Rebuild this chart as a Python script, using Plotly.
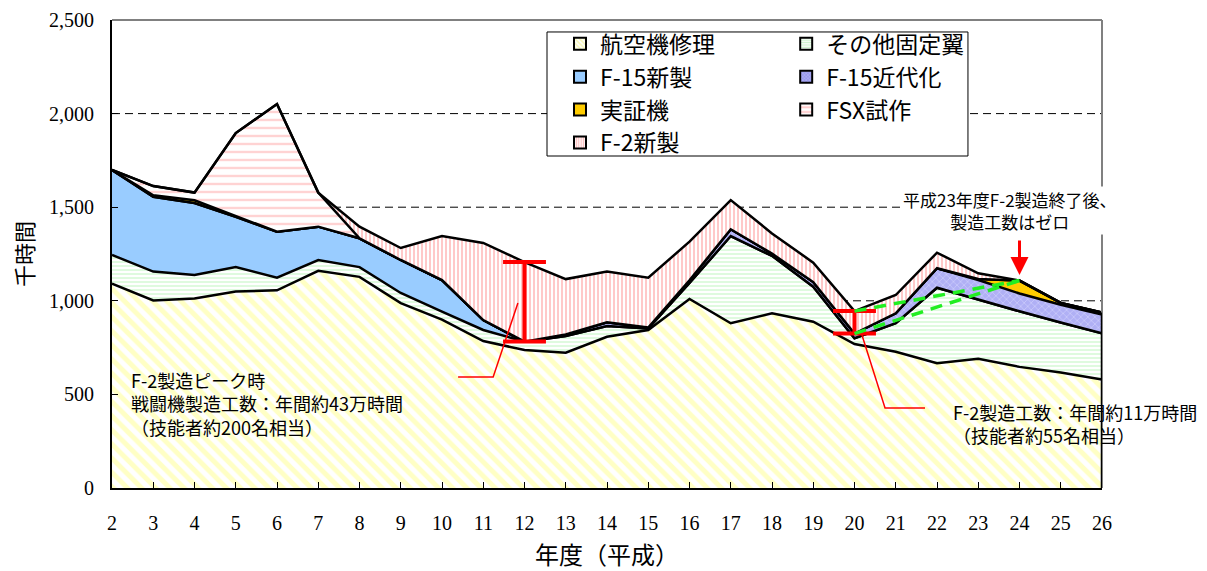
import numpy as np
import plotly.graph_objects as go

# ---------------- data (千時間) ----------------
years = list(range(2, 27))
year_labels = [str(y) for y in years]

repair      = [1092, 1002, 1012, 1050, 1056, 1160, 1128, 988, 900, 785, 737, 723, 808, 844, 1010, 880, 933, 888, 769, 728, 667, 690, 647, 617, 580]
other_fixed = [153, 154, 126, 130, 68, 58, 52, 54, 42, 59, 45, 89, 57, 8, 85, 466, 307, 187, 31, 152, 403, 315, 297, 267, 246]
f15_new     = [454, 400, 384, 269, 245, 178, 154, 176, 169, 53, 0, 0, 0, 0, 0, 0, 0, 0, 0, 0, 0, 0, 0, 0, 0]
f15_mod     = [0, 0, 0, 0, 0, 0, 0, 0, 0, 0, 0, 8, 20, 5, 15, 36, 12, 25, 25, 53, 104, 106, 95, 95, 100]
demo        = [0, 8, 15, 5, 0, 0, 0, 0, 0, 0, 0, 0, 0, 0, 0, 0, 0, 0, 0, 0, 0, 6, 69, 10, 12]
fsx         = [0, 49, 41, 442, 682, 182, 0, 0, 0, 0, 0, 0, 0, 0, 0, 0, 0, 0, 0, 0, 0, 0, 0, 0, 0]
f2_new      = [0, 0, 0, 0, 0, 0, 62, 64, 235, 412, 425, 296, 271, 266, 206, 156, 108, 104, 120, 98, 83, 30, 0, 0, 0]

series_names = ["航空機修理", "その他固定翼", "F-15新製", "F-15近代化", "実証機", "FSX試作", "F-2新製"]
series_vals = [repair, other_fixed, f15_new, f15_mod, demo, fsx, f2_new]
legend_col = ["legend", "legend2", "legend", "legend2", "legend", "legend2", "legend"]

y_ticks = [0, 500, 1000, 1500, 2000, 2500]

note_peak = ["F-2製造ピーク時", "戦闘機製造工数：年間約43万時間", "（技能者約200名相当）"]
note_f2 = ["F-2製造工数：年間約11万時間", "（技能者約55名相当）"]
note_end = ["平成23年度F-2製造終了後、", "製造工数はゼロ"]

# ---------------- styles ----------------
CJK = "Noto Sans CJK JP"
SERIF = "Liberation Serif"
styles = [
    dict(fillcolor="white", pattern=dict(shape="\\", fgcolor="#ffff8c", bgcolor="white", size=10, solidity=0.5)),
    dict(fillcolor="white", pattern=dict(shape="-", fgcolor="#bff5bf", bgcolor="white", size=4, solidity=0.5)),
    dict(fillcolor="#99ccff", pattern=None),
    dict(fillcolor="#b0b0f5", pattern=dict(shape="x", fgcolor="#e2e2ff", bgcolor="#b0b0f5", size=5, solidity=0.3)),
    dict(fillcolor="#ffcc00", pattern=None),
    dict(fillcolor="white", pattern=dict(shape="-", fgcolor="#ffa8a8", bgcolor="white", size=8, solidity=0.3)),
    dict(fillcolor="white", pattern=dict(shape="|", fgcolor="#ff9494", bgcolor="white", size=4, solidity=0.5)),
]
legend_styles = [
    dict(color="white", pattern=dict(shape="\\", fgcolor="#f0f070", bgcolor="white", size=4, solidity=0.5)),
    dict(color="white", pattern=dict(shape="-", fgcolor="#99e699", bgcolor="white", size=3, solidity=0.5)),
    dict(color="#99ccff", pattern=None),
    dict(color="#9999ee", pattern=dict(shape="x", fgcolor="#e6e6ff", bgcolor="#9999ee", size=3, solidity=0.3)),
    dict(color="#ffcc00", pattern=None),
    dict(color="white", pattern=dict(shape="-", fgcolor="#ff8080", bgcolor="white", size=6, solidity=0.35)),
    dict(color="white", pattern=dict(shape="|", fgcolor="#ff8080", bgcolor="white", size=3, solidity=0.5)),
]

fig = go.Figure()

for name, vals, st in zip(series_names, series_vals, styles):
    kw = dict(x=years, y=vals, name=name, mode="lines", stackgroup="one",
              line=dict(color="black", width=2.5), fillcolor=st["fillcolor"],
              showlegend=False, hoverinfo="skip")
    if st["pattern"] is not None:
        kw["fillpattern"] = st["pattern"]
    fig.add_trace(go.Scatter(**kw))

# legend-only square symbols
for name, lst, lg in zip(series_names, legend_styles, legend_col):
    marker = dict(color=lst["color"], line=dict(color="black", width=2))
    if lst["pattern"] is not None:
        marker["pattern"] = lst["pattern"]
    fig.add_trace(go.Bar(x=[None], y=[None], name=name, marker=marker,
                         legend=lg, legendgroup=name, showlegend=True, hoverinfo="skip"))

# ---------------- derived positions ----------------
stack = np.cumsum(np.array(series_vals), axis=0)
total = stack[-1]
below_f2 = stack[-2]
i12 = years.index(12)
i20 = years.index(20)
i24 = years.index(24)

shapes = []
for t in y_ticks[1:-1]:
    shapes.append(dict(type="line", xref="paper", x0=0, x1=1, yref="y", y0=t, y1=t,
                       line=dict(color="black", width=1, dash="8px,5px"), layer="below"))
shapes.append(dict(type="line", xref="paper", x0=0, x1=1, yref="paper", y0=1, y1=1,
                   line=dict(color="#808080", width=2), layer="above"))
shapes.append(dict(type="line", xref="paper", x0=1, x1=1, yref="paper", y0=0, y1=1,
                   line=dict(color="#808080", width=2), layer="above"))
shapes.append(dict(type="line", x0=years[-1], x1=years[-1], y0=0, y1=float(total[-1]),
                   line=dict(color="black", width=2.5), layer="above"))

# legend box
shapes.append(dict(type="rect", xref="paper", yref="paper", x0=0.4394, x1=0.8646, y0=0.7094, y1=0.9744,
                   line=dict(color="black", width=1), fillcolor="white", layer="above"))

RED = "#ff0000"
def ibeam(xc, ytop, ybot, half=0.52):
    return [
        dict(type="line", x0=xc - half, x1=xc + half, y0=ytop, y1=ytop, line=dict(color=RED, width=4), layer="above"),
        dict(type="line", x0=xc - half, x1=xc + half, y0=ybot, y1=ybot, line=dict(color=RED, width=4), layer="above"),
        dict(type="line", x0=xc, x1=xc, y0=ytop, y1=ybot, line=dict(color=RED, width=4), layer="above"),
    ]

shapes += ibeam(12, float(total[i12]), float(below_f2[i12]))
shapes += ibeam(20, float(total[i20]), float(below_f2[i20]))

shapes.append(dict(type="path", path="M 11.84,988 L 11.24,593 L 10.39,593",
                   line=dict(color=RED, width=1.5), layer="above"))
shapes.append(dict(type="path", path="M 20.18,817 L 20.74,427 L 21.71,427",
                   line=dict(color=RED, width=1.5), layer="above"))

peak24 = float(stack[4][i24])
for y0 in (float(total[i20]), float(below_f2[i20])):
    shapes.append(dict(type="line", x0=20, x1=24, y0=y0, y1=peak24,
                       line=dict(color="#22ee22", width=3.5, dash="12px,8px"), layer="above"))

annotations = [
    dict(x=2.42, y=449, xref="x", yref="y", xanchor="left", yanchor="middle", align="left",
         showarrow=False, text="<br>".join(note_peak), font=dict(family=CJK, size=18, color="black")),
    dict(x=22.33, y=345, xref="x", yref="y", xanchor="left", yanchor="middle", align="left",
         showarrow=False, text="<br>".join(note_f2), font=dict(family=CJK, size=18, color="black")),
    dict(x=23.77, y=1480, xref="x", yref="y", xanchor="center", yanchor="middle", align="center",
         showarrow=False, text="<br>".join(note_end), bgcolor="white", borderpad=0,
         font=dict(family=CJK, size=17, color="black")),
    dict(x=24, y=peak24 + 30, xref="x", yref="y", ax=0, ay=-36, text="", showarrow=True,
         arrowhead=2, arrowsize=1.2, arrowwidth=3, arrowcolor=RED),
    dict(x=0.5, y=-0.14, xref="paper", yref="paper", xanchor="center", yanchor="middle", showarrow=False,
         text="年度（平成）", font=dict(family=CJK, size=24, color="black")),
    dict(x=-0.09, y=0.5, xref="paper", yref="paper", xanchor="center", yanchor="middle", showarrow=False,
         text="千時間", textangle=-90, font=dict(family=CJK, size=22, color="black")),
]

legend_common = dict(orientation="v", traceorder="normal", bgcolor="rgba(0,0,0,0)", borderwidth=0,
                     font=dict(family=CJK, size=23, color="black"), itemwidth=30,
                     yanchor="top", xanchor="left", tracegroupgap=0)

# page body has an 8px default margin: compensate so the plot area lands where the reference has it
fig.update_layout(
    width=1199, height=563,
    margin=dict(l=104, r=105, t=12, b=83, autoexpand=False),
    paper_bgcolor="white", plot_bgcolor="white",
    showlegend=True,
    legend=dict(x=0.4525, y=0.995, **legend_common),
    legend2=dict(x=0.681, y=0.995, **legend_common),
    xaxis=dict(range=[years[0], years[-1]], tickvals=years, ticktext=year_labels, automargin=False,
               showline=True, linecolor="black", linewidth=2, ticks="inside", ticklen=6,
               tickcolor="black", tickwidth=1, showgrid=False, zeroline=False,
               tickfont=dict(family=SERIF, size=20, color="black"), ticklabelstandoff=16),
    yaxis=dict(range=[y_ticks[0], y_ticks[-1]], tickvals=y_ticks, tickformat=",d", automargin=False,
               showline=True, linecolor="black", linewidth=2, ticks="inside", ticklen=6,
               tickcolor="black", tickwidth=1, showgrid=False, zeroline=False,
               tickfont=dict(family=SERIF, size=20, color="black"), ticklabelstandoff=12),
    shapes=shapes,
    annotations=annotations,
    barmode="overlay",
)

fig.write_html("out.html")
